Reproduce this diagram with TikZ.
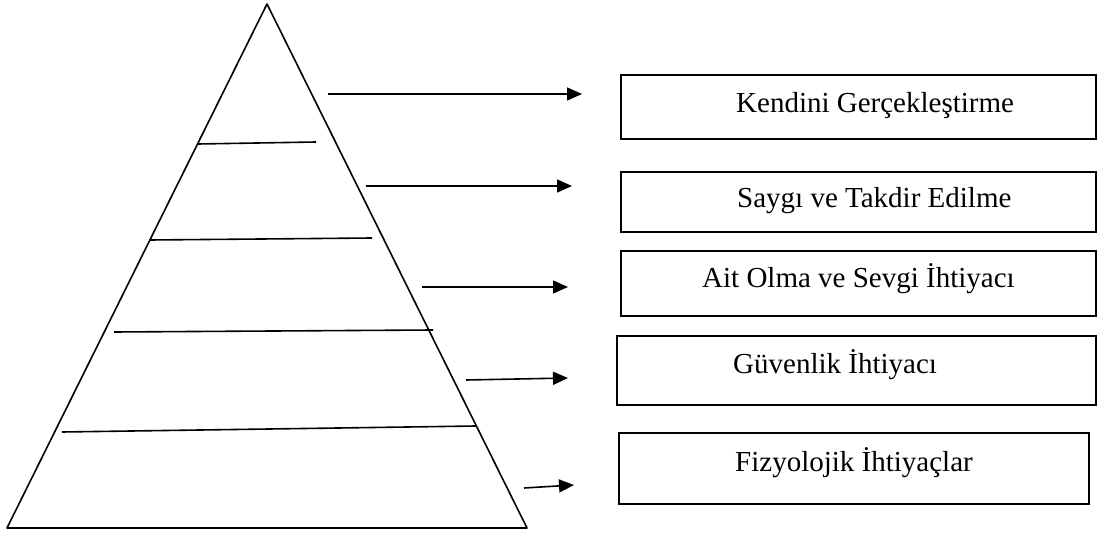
\documentclass[tikz,border=0pt]{standalone}
\usepackage{fontspec}
\setmainfont{Liberation Serif}
\usepackage{tikz}
\usetikzlibrary{arrows.meta, positioning}

\begin{document}
\begin{tikzpicture}[x=1pt, y=-1pt,
    kutu/.style={draw, line width=1.6pt, inner sep=0pt},
    yazi/.style={anchor=base west, inner sep=0pt, font=\fontsize{29}{34}\selectfont},
    ok/.style={-{Triangle[length=15pt, width=13pt]}, line width=1.6pt}]
    \useasboundingbox (0,0) rectangle (1097,534);

    % 三角形
    \draw[line width=1.6pt, line join=round] (267,4) -- (7,528) -- (527,528) -- cycle;

    % 分层线
    \draw[line width=1.6pt] (198,144) -- (316,142);
    \draw[line width=1.6pt] (150,240) -- (372,238);
    \draw[line width=1.6pt] (114,332) -- (433,330);
    \draw[line width=1.6pt] (62,432) -- (476,426);

    % 方框
    \node[kutu, minimum width=475pt, minimum height=64pt] (k1) at (858.5,107) {};
    \node[kutu, minimum width=475pt, minimum height=60pt] (k2) at (858.5,202) {};
    \node[kutu, minimum width=475pt, minimum height=65pt] (k3) at (858.5,283.5) {};
    \node[kutu, minimum width=479pt, minimum height=69pt] (k4) at (856.5,370.5) {};
    \node[kutu, minimum width=470pt, minimum height=71pt] (k5) at (854,468.5) {};

    % 文字
    \node[yazi] (t1) at (736,113) {Kendini Gerçekleştirme};
    \node[yazi] (t2) at (737,208) {Saygı ve Takdir Edilme};
    \node[yazi] (t3) at (702,288) {Ait Olma ve Sevgi İhtiyacı};
    \node[yazi] (t4) at (733,373) {Güvenlik İhtiyacı};
    \node[yazi] (t5) at (735,471) {Fizyolojik İhtiyaçlar};

    % 箭头
    \coordinate (a1) at (328,94);  \coordinate (b1) at (582,94);
    \coordinate (a2) at (366,186); \coordinate (b2) at (572,186);
    \coordinate (a3) at (422,287); \coordinate (b3) at (568,287);
    \coordinate (a4) at (466,380); \coordinate (b4) at (568,378);
    \coordinate (a5) at (524,488); \coordinate (b5) at (574,485);
    \draw[ok] (a1) -- (b1);
    \draw[ok] (a2) -- (b2);
    \draw[ok] (a3) -- (b3);
    \draw[ok] (a4) -- (b4);
    \draw[ok] (a5) -- (b5);
\end{tikzpicture}
\end{document}
